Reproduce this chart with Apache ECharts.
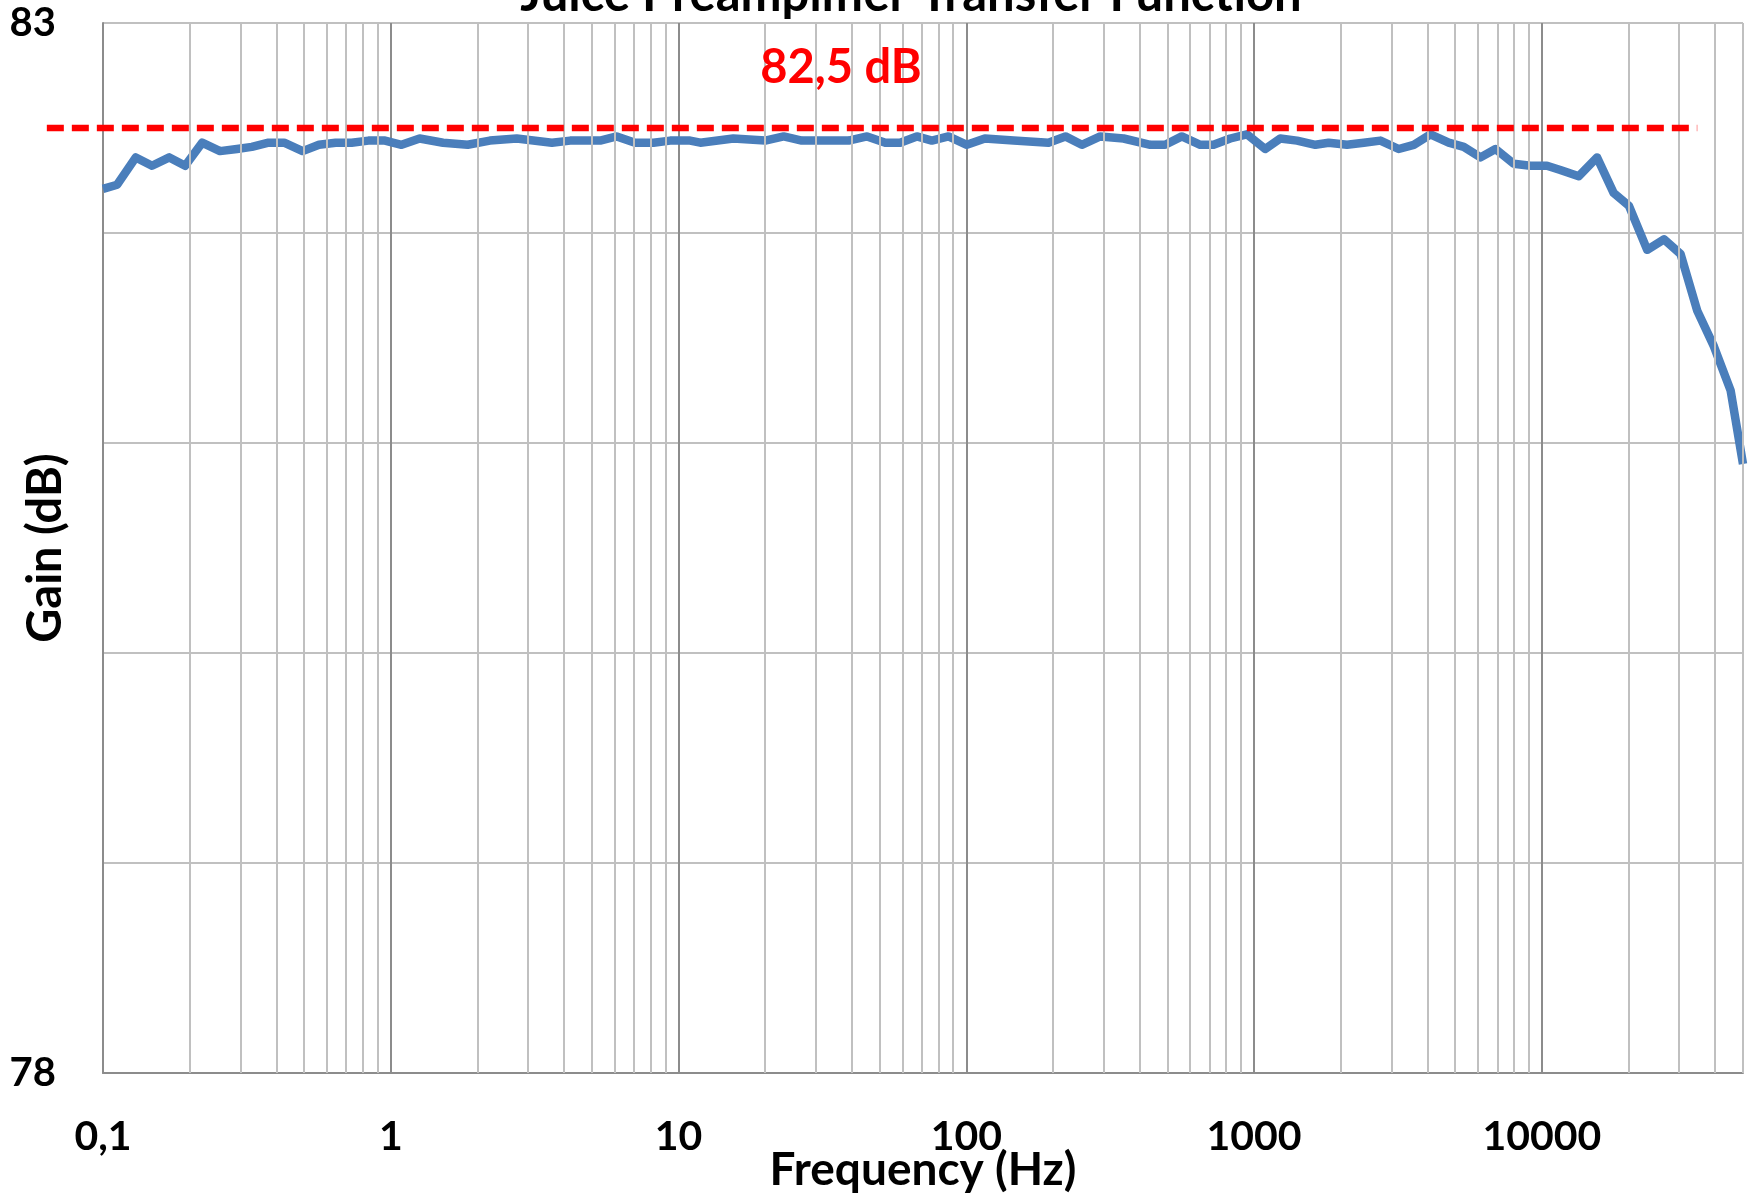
<!DOCTYPE html>
<html>
<head>
<meta charset="utf-8">
<title>Juice Preamplifier Transfer Function</title>
<script src="https://cdn.jsdelivr.net/npm/echarts@6/dist/echarts.min.js"></script>
<style>
    html, body { margin: 0; padding: 0; background: #fff; }
    #chart { width: 1752px; height: 1194px; }
</style>
</head>
<body>
<div id="chart"></div>
<script>
// measured response (Hz, dB)
const freqs = [
    0.1, 0.112, 0.130, 0.148, 0.170, 0.193, 0.221, 0.255, 0.292, 0.329,
    0.376, 0.426, 0.494, 0.563, 0.643, 0.731, 0.836, 0.955, 1.09, 1.26,
    1.52, 1.85, 2.21, 2.74, 3.63, 4.20, 5.34, 6.1, 7.06, 8.18,
    9.35, 10.97, 11.9, 15.5, 20.0, 23.2, 26.8, 39.0, 45.2, 52.3,
    58.9, 67.3, 75.9, 86.7, 100.4, 116, 146, 193, 221, 252,
    292, 352, 436, 491, 561, 650, 723, 826, 944, 1093,
    1233, 1410, 1633, 1816, 2103, 2404, 2748, 3180, 3589, 4102,
    4746, 5353, 6120, 6902, 7986, 9125, 10420, 11590, 13430, 15550,
    17770, 20060, 23230, 26560, 30340, 34670, 39620, 45290, 50000
];
const gains = [
    82.21, 82.23, 82.36, 82.32, 82.36, 82.32, 82.43, 82.39, 82.40, 82.41,
    82.43, 82.43, 82.39, 82.42, 82.43, 82.43, 82.44, 82.44, 82.42, 82.45,
    82.43, 82.42, 82.44, 82.45, 82.43, 82.44, 82.44, 82.46, 82.43, 82.43,
    82.44, 82.44, 82.43, 82.45, 82.44, 82.46, 82.44, 82.44, 82.46, 82.43,
    82.43, 82.46, 82.44, 82.46, 82.42, 82.45, 82.44, 82.43, 82.46, 82.42,
    82.46, 82.45, 82.42, 82.42, 82.46, 82.42, 82.42, 82.45, 82.47, 82.40,
    82.45, 82.44, 82.42, 82.43, 82.42, 82.43, 82.44, 82.40, 82.42, 82.47,
    82.43, 82.41, 82.36, 82.40, 82.33, 82.32, 82.32, 82.30, 82.27, 82.36,
    82.19, 82.13, 81.92, 81.97, 81.90, 81.63, 81.46, 81.25, 80.90
];

// reference level line (starts a bit left of the plot, like the original)
const refLevel = 82.5;
const refSpan = [0.0638, 34670];

const yTickLabels = [78, 83];
const decades = [0.1, 1, 10, 100, 1000, 10000];

const font = 'Lato, "Open Sans", sans-serif';

// minor grid lines 2..9 inside each decade
const minorFreqs = [];
decades.forEach(d => {
    for (let m = 2; m <= 9; m++) {
        const f = +(d * m).toPrecision(6);
        if (f <= 50000) minorFreqs.push(f);
    }
});

const chart = echarts.init(document.getElementById('chart'));

const option = {
    animation: false,
    backgroundColor: '#fff',
    grid: { left: 103, right: 9, top: 23, bottom: 121, outerBoundsMode: 'none', containLabel: false },
    xAxis: {
        type: 'log',
        logBase: 10,
        min: 0.1,
        max: 50000,
        name: 'Frequency (Hz)',
        nameLocation: 'middle',
        nameGap: 74,
        nameMoveOverlap: false,
        nameTextStyle: { fontFamily: font, fontWeight: 'bold', fontSize: 46, color: '#000' },
        axisLine: { show: true, lineStyle: { color: '#8c8c8c', width: 2 } },
        axisTick: { show: false },
        axisLabel: {
            margin: 43,
            showMaxLabel: false,
            fontFamily: font,
            fontWeight: 'bold',
            fontSize: 41,
            color: '#000',
            formatter: v => String(+(+v).toPrecision(6)).replace('.', ',')
        },
        splitLine: { show: true, lineStyle: { color: '#8c8c8c', width: 2 } }
    },
    yAxis: {
        type: 'value',
        min: 78,
        max: 83,
        interval: 1,
        name: 'Gain (dB)',
        nameLocation: 'middle',
        nameGap: 34,
        nameMoveOverlap: false,
        nameTextStyle: { fontFamily: font, fontWeight: 'bold', fontSize: 47, color: '#000' },
        axisLine: { show: true, lineStyle: { color: '#8c8c8c', width: 2 } },
        axisTick: { show: false },
        axisLabel: {
            margin: 47,
            fontFamily: font,
            fontWeight: 'bold',
            fontSize: 40,
            color: '#000',
            formatter: v => yTickLabels.includes(v) ? String(v) : ''
        },
        splitLine: { show: true, lineStyle: { color: '#c0c0c0', width: 2 } }
    },
    series: [
        {
            name: 'minor',
            type: 'line',
            data: [],
            z: 1,
            silent: true,
            markLine: {
                silent: true,
                symbol: 'none',
                label: { show: false },
                lineStyle: { color: '#c0c0c0', width: 2, type: 'solid' },
                data: minorFreqs.map(f => ({ xAxis: f }))
            }
        },
        {
            name: 'Gain',
            type: 'line',
            z: 3,
            data: freqs.map((f, i) => [f, gains[i]]),
            showSymbol: false,
            lineStyle: { color: '#4a7ebb', width: 8.5, join: 'round' },
            itemStyle: { color: '#4a7ebb' }
        }
    ]
};

chart.setOption(option);

// the dashed line runs past the left edge of the grid, so place it through the axis scales
const p0 = chart.convertToPixel({ xAxisIndex: 0, yAxisIndex: 0 }, [refSpan[0], refLevel]);
const p1 = chart.convertToPixel({ xAxisIndex: 0, yAxisIndex: 0 }, [refSpan[1], refLevel]);

chart.setOption({
    graphic: [
        {
            type: 'text',
            x: 911, y: 20,
            z: 100,
            style: {
                text: 'Juice Preamplifier Transfer Function',
                font: 'bold 49px ' + font,
                fill: '#000',
                textAlign: 'center',
                textVerticalAlign: 'bottom'
            }
        },
        {
            type: 'text',
            x: 841, y: 68,
            z: 100,
            style: {
                text: '82,5 dB',
                font: 'bold 47px ' + font,
                fill: '#ff0000',
                textAlign: 'center',
                textVerticalAlign: 'middle'
            }
        },
        {
            type: 'line',
            z: 50,
            shape: { x1: p0[0], y1: p0[1], x2: p1[0], y2: p1[1] },
            style: { stroke: '#ff0000', lineWidth: 6.5, lineDash: [17, 8] }
        }
    ]
});
</script>
</body>
</html>
